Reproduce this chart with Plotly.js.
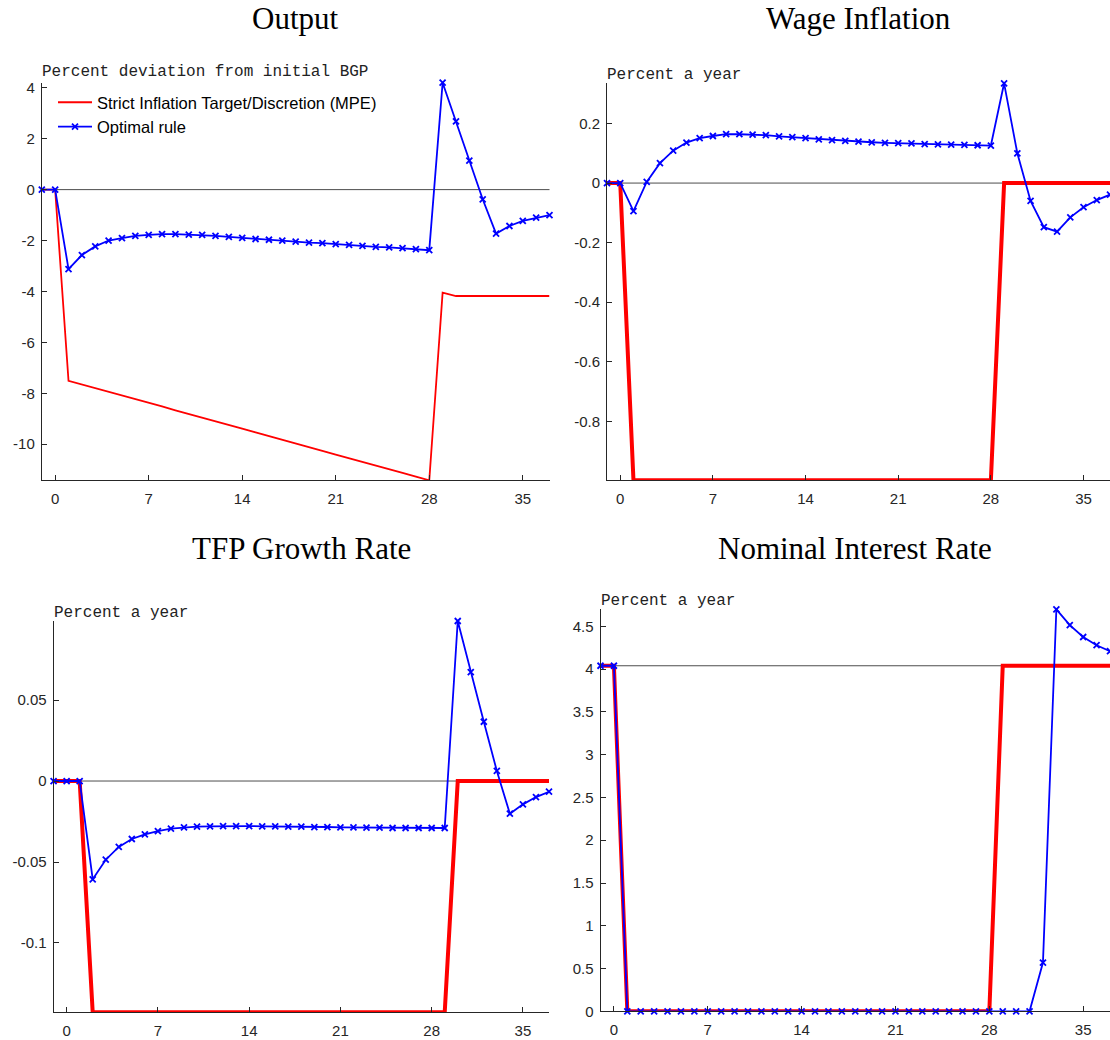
<!DOCTYPE html>
<html>
<head>
<meta charset="utf-8">
<script src="https://cdn.plot.ly/plotly-3.0.1.min.js"></script>
<style>html,body{margin:0;padding:0;background:#fff;}#chart{width:1110px;height:1040px;}</style>
</head>
<body>
<div id="chart"></div>
<script>
// ---------------- DATA ----------------
const periods = [-1,0,1,2,3,4,5,6,7,8,9,10,11,12,13,14,15,16,17,18,19,20,21,22,23,24,25,26,27,28,29,30,31,32,33,34,35,36,37];
const xTickVals = [0,7,14,21,28,35];
const xTickText = ['0','7','14','21','28','35'];

const seriesNames = ['Strict Inflation Target/Discretion (MPE)', 'Optimal rule'];
const panelTitles = ['Output', 'Wage Inflation', 'TFP Growth Rate', 'Nominal Interest Rate'];
const unitLabels = ['Percent deviation from initial BGP', 'Percent a year', 'Percent a year', 'Percent a year'];

const outputMPE = [0, 0, -7.51, -7.65, -7.80, -7.94, -8.09, -8.23, -8.38, -8.52, -8.67, -8.81, -8.96, -9.10, -9.25, -9.39, -9.54, -9.68, -9.83, -9.97, -10.12, -10.26, -10.41, -10.55, -10.70, -10.84, -10.99, -11.13, -11.28, -11.42, -4.05, -4.18, -4.18, -4.18, -4.18, -4.18, -4.18, -4.18, -4.18];
const outputOpt = [0, 0, -3.12, -2.57, -2.23, -2.00, -1.91, -1.82, -1.78, -1.75, -1.75, -1.77, -1.78, -1.82, -1.86, -1.90, -1.94, -1.97, -2.00, -2.04, -2.08, -2.10, -2.14, -2.17, -2.21, -2.25, -2.27, -2.30, -2.34, -2.38, 4.20, 2.68, 1.14, -0.38, -1.73, -1.43, -1.23, -1.10, -1.00];

const wageMPE = [0, 0, -0.998, -0.998, -0.998, -0.998, -0.998, -0.998, -0.998, -0.998, -0.998, -0.998, -0.998, -0.998, -0.998, -0.998, -0.998, -0.998, -0.998, -0.998, -0.998, -0.998, -0.998, -0.998, -0.998, -0.998, -0.998, -0.998, -0.998, -0.998, 0, 0, 0, 0, 0, 0, 0, 0, 0];
const wageOpt = [0, 0, -0.094, 0.004, 0.067, 0.109, 0.136, 0.151, 0.158, 0.164, 0.164, 0.163, 0.161, 0.157, 0.154, 0.151, 0.147, 0.144, 0.142, 0.139, 0.137, 0.135, 0.134, 0.133, 0.131, 0.130, 0.129, 0.128, 0.127, 0.126, 0.335, 0.100, -0.060, -0.148, -0.163, -0.115, -0.081, -0.057, -0.039];

const tfpMPE = [0, 0, 0, -0.1428, -0.1428, -0.1428, -0.1428, -0.1428, -0.1428, -0.1428, -0.1428, -0.1428, -0.1428, -0.1428, -0.1428, -0.1428, -0.1428, -0.1428, -0.1428, -0.1428, -0.1428, -0.1428, -0.1428, -0.1428, -0.1428, -0.1428, -0.1428, -0.1428, -0.1428, -0.1428, -0.1428, 0, 0, 0, 0, 0, 0, 0, 0];
const tfpOpt = [0, 0, 0, -0.0607, -0.0486, -0.0407, -0.0358, -0.0329, -0.0309, -0.0294, -0.0286, -0.0282, -0.0280, -0.0278, -0.0278, -0.0278, -0.0280, -0.0280, -0.0282, -0.0282, -0.0284, -0.0284, -0.0286, -0.0286, -0.0288, -0.0288, -0.0290, -0.0290, -0.0290, -0.0290, -0.0290, 0.0988, 0.0673, 0.0366, 0.0062, -0.0202, -0.0144, -0.0099, -0.0066];

const nomMPE = [4.04, 4.04, 0, 0, 0, 0, 0, 0, 0, 0, 0, 0, 0, 0, 0, 0, 0, 0, 0, 0, 0, 0, 0, 0, 0, 0, 0, 0, 0, 0, 4.04, 4.04, 4.04, 4.04, 4.04, 4.04, 4.04, 4.04, 4.04];
const nomOpt = [4.04, 4.04, 0, 0, 0, 0, 0, 0, 0, 0, 0, 0, 0, 0, 0, 0, 0, 0, 0, 0, 0, 0, 0, 0, 0, 0, 0, 0, 0, 0, 0, 0, 0, 0.57, 4.70, 4.515, 4.376, 4.28, 4.21];

const refLevels = [0, 0, 0, 4.04];

const outputTickVals = [-10, -8, -6, -4, -2, 0, 2, 4];
const outputTickText = ['-10', '-8', '-6', '-4', '-2', '0', '2', '4'];
const wageTickVals = [-0.8, -0.6, -0.4, -0.2, 0, 0.2];
const wageTickText = ['-0.8', '-0.6', '-0.4', '-0.2', '0', '0.2'];
const tfpTickVals = [-0.1, -0.05, 0, 0.05];
const tfpTickText = ['-0.1', '-0.05', '0', '0.05'];
const nomTickVals = [0, 0.5, 1, 1.5, 2, 2.5, 3, 3.5, 4, 4.5];
const nomTickText = ['0', '0.5', '1', '1.5', '2', '2.5', '3', '3.5', '4', '4.5'];

// ---------------- LAYOUT ----------------
const W = 1110, H = 1040;
const px = p => p / W;
const py = p => 1 - p / H;

// pixel boxes [left, right, top, bottom]
const boxes = [
  [41.8, 549.5, 82.7, 480.3],
  [607.0, 1110, 83.3, 480.3],
  [53.6, 549.0, 621.0, 1012.3],
  [600.5, 1110, 609.3, 1011.3]
];
const titleY = [18, 18, 548, 548];
const unitY = [72, 75, 613, 601];
const mpeWidths = [1.8, 4, 4, 4];

const panels = [
  {mpe: outputMPE, opt: outputOpt, tv: outputTickVals, tt: outputTickText},
  {mpe: wageMPE, opt: wageOpt, tv: wageTickVals, tt: wageTickText},
  {mpe: tfpMPE, opt: tfpOpt, tv: tfpTickVals, tt: tfpTickText},
  {mpe: nomMPE, opt: nomOpt, tv: nomTickVals, tt: nomTickText}
];

const axisColor = '#262626';
const tickFont = {family: 'Liberation Sans, Arial, sans-serif', size: 15, color: axisColor};

const traces = [];
const layout = {
  width: W, height: H,
  margin: {l: 0, r: 0, t: 0, b: 0},
  paper_bgcolor: '#fff', plot_bgcolor: 'rgba(0,0,0,0)',
  showlegend: true,
  legend: {
    x: px(53), y: py(85), xanchor: 'left', yanchor: 'top',
    bgcolor: 'rgba(0,0,0,0)', borderwidth: 0,
    font: {family: 'Liberation Sans, Arial, sans-serif', size: 16.5, color: '#000'},
    tracegroupgap: 0, itemwidth: 34
  },
  annotations: [],
  shapes: []
};

panels.forEach((p, i) => {
  const n = i + 1;
  const xa = n === 1 ? 'x' : 'x' + n;
  const ya = n === 1 ? 'y' : 'y' + n;
  const b = boxes[i];
  const all = p.mpe.concat(p.opt);
  const yMin = Math.min(...all), yMax = Math.max(...all);

  traces.push({
    x: periods, y: p.mpe, xaxis: xa, yaxis: ya, type: 'scatter', mode: 'lines',
    name: seriesNames[0], showlegend: i === 0, cliponaxis: false,
    line: {color: '#ff0000', width: mpeWidths[i]}
  });
  traces.push({
    x: periods, y: p.opt, xaxis: xa, yaxis: ya, type: 'scatter', mode: 'lines+markers',
    name: seriesNames[1], showlegend: i === 0, cliponaxis: false,
    line: {color: '#0000ff', width: 1.8},
    marker: {symbol: 'x-thin', size: 6, color: '#0000ff', line: {color: '#0000ff', width: 1.8}}
  });

  const common = {
    showline: true, linecolor: axisColor, linewidth: 1,
    ticks: 'inside', ticklen: 5, tickwidth: 1, tickcolor: axisColor,
    showgrid: false, zeroline: false, tickfont: tickFont, fixedrange: true,
    mirror: false
  };
  layout['xaxis' + (n === 1 ? '' : n)] = Object.assign({}, common, {
    domain: [px(b[0]), px(b[1])], range: [-1, 37], anchor: ya,
    tickmode: 'array', tickvals: xTickVals, ticktext: xTickText,
    ticklabelstandoff: 5
  });
  layout['yaxis' + (n === 1 ? '' : n)] = Object.assign({}, common, {
    domain: [py(b[3]), py(b[2])], range: [yMin, yMax], anchor: xa,
    tickmode: 'array', tickvals: p.tv, ticktext: p.tt,
    ticklabelstandoff: 3
  });

  layout.shapes.push({
    type: 'line', xref: xa + ' domain', yref: ya,
    x0: 0, x1: 1, y0: refLevels[i], y1: refLevels[i],
    line: {color: '#4d4d4d', width: 1}, layer: 'below'
  });

  layout.annotations.push({
    text: panelTitles[i], xref: 'paper', yref: 'paper',
    x: px((b[0] + b[1]) / 2), y: py(titleY[i]), xanchor: 'center', yanchor: 'middle',
    showarrow: false,
    font: {family: 'Liberation Serif, Times New Roman, serif', size: 31, color: '#000'}
  });
  layout.annotations.push({
    text: unitLabels[i], xref: 'paper', yref: 'paper',
    x: px(b[0] - 2), y: py(unitY[i]), xanchor: 'left', yanchor: 'middle',
    showarrow: false,
    font: {family: 'Liberation Mono, Courier New, monospace', size: 16, color: '#222'}
  });
});

Plotly.newPlot('chart', traces, layout, {staticPlot: true, displayModeBar: false});
</script>
</body>
</html>
